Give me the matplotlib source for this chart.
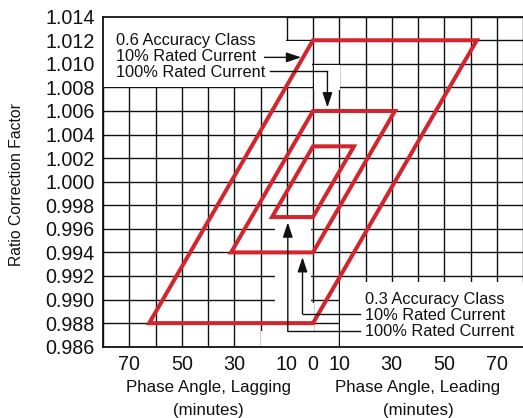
import matplotlib
matplotlib.use("Agg")
import matplotlib.pyplot as plt
import matplotlib.transforms as mtransforms
from matplotlib.patches import Polygon, Rectangle

plt.rcParams['font.family'] = ['Liberation Sans', 'DejaVu Sans']

# ---- data ----
x_ticks = list(range(-80, 81, 10))
x_tick_labels = {-70: "70", -50: "50", -30: "30", -10: "10", 0: "0",
                 10: "10", 30: "30", 50: "50", 70: "70"}
y_ticks = [0.986, 0.988, 0.990, 0.992, 0.994, 0.996, 0.998, 1.000,
           1.002, 1.004, 1.006, 1.008, 1.010, 1.012, 1.014]

# parallelograms: (RCF top, RCF bottom, phase-angle width in minutes)
rcf_top = [1.012, 1.006, 1.003]
rcf_bottom = [0.988, 0.994, 0.997]
phase_width = [62.4, 31.2, 15.6]

red = '#d3252e'
ink = '#111111'

fig = plt.figure(figsize=(5.23, 4.18), dpi=100)
W, H = 523, 418
L, R, T, B = 103, 523, 16.7, 346.7
ax = fig.add_axes([L / W, (H - B) / H, (R - L) / W, (B - T) / H])
ax.set_xlim(-80, 80)
ax.set_ylim(0.986, 1.014)
ax.set_axisbelow(True)

ax.set_xticks(x_ticks)
ax.set_xticklabels([x_tick_labels.get(v, "") for v in x_ticks])
ax.set_yticks(y_ticks)
ax.set_yticklabels([f"{v:.3f}" for v in y_ticks])
ax.tick_params(axis='both', length=0, labelsize=14.2, colors=ink)
ax.tick_params(axis='y', pad=6)
ax.tick_params(axis='x', pad=6)
ax.grid(True, color=ink, linewidth=1.0)
for s in ['left', 'bottom', 'top']:
    ax.spines[s].set_linewidth(1.3)
    ax.spines[s].set_color(ink)
ax.spines['right'].set_visible(False)

# white masks behind annotations
dx, dy = 0.3, 0.00007
masks = [
    (-80, -10 - dx, 1.008 + dy, 1.014),
    (-10 - dx, 0 - dx, 1.008 + dy, 1.012 - dy),
    (0 + dx, 10 + dx, 1.0078, 1.0099),
    (-14.3, -0.6, 0.986, 0.9969),
    (-20 + dx, 10 - dx, 0.986, 0.98735),
    (-0.6, 0.4, 0.986, 0.9897),
    (10 + dx, 80, 0.986, 0.9915),
]
for x0, x1, y0, y1 in masks:
    ax.add_patch(Rectangle((x0, y0), x1 - x0, y1 - y0, facecolor='white',
                           edgecolor='none', zorder=1))

# red parallelograms
for top, bot, w in zip(rcf_top, rcf_bottom, phase_width):
    verts = [(0, top), (w, top), (0, bot), (-w, bot)]
    ax.add_patch(Polygon(verts, closed=True, fill=False, edgecolor=red,
                         linewidth=2.9, joinstyle='miter', zorder=3))

# leader lines + arrows
def leader(points):
    xs = [p[0] for p in points]
    ys = [p[1] for p in points]
    ax.plot(xs[:-1], ys[:-1], color=ink, lw=1.0, zorder=4,
            solid_joinstyle='miter')
    ax.annotate('', xy=points[-1], xytext=points[-2],
                arrowprops=dict(arrowstyle='-|>,head_length=0.9,head_width=0.3',
                                color=ink, lw=1.0, shrinkA=0, shrinkB=0),
                zorder=4)

leader([(-18.5, 1.01055), (-4.5, 1.01055)])
leader([(-16.5, 1.00936), (5.5, 1.00936), (5.5, 1.0063)])
leader([(17.8, 0.98878), (-4.0, 0.98878), (-4.0, 0.9936)])
leader([(17.8, 0.98730), (-9.6, 0.98730), (-9.6, 0.99655)])

# annotation text
fs = 11.8
for y, s in zip([1.01202, 1.01062, 1.00930],
                ["0.6 Accuracy Class", "10% Rated Current", "100% Rated Current"]):
    ax.text(-74.9, y, s, fontsize=fs, ha='left', va='center', color=ink, zorder=5)
for y, s in zip([0.99002, 0.98868, 0.98726],
                ["0.3 Accuracy Class", "10% Rated Current", "100% Rated Current"]):
    ax.text(19.7, y, s, fontsize=fs, ha='left', va='center', color=ink, zorder=5)

# axis labels
trans = mtransforms.blended_transform_factory(ax.transData, ax.transAxes)
afs = 12.2
ax.text(-40, -0.125, "Phase Angle, Lagging", transform=trans, ha='center',
        va='center', fontsize=afs, color=ink)
ax.text(-40, -0.192, "(minutes)", transform=trans, ha='center',
        va='center', fontsize=afs, color=ink)
ax.text(40, -0.125, "Phase Angle, Leading", transform=trans, ha='center',
        va='center', fontsize=afs, color=ink)
ax.text(40, -0.192, "(minutes)", transform=trans, ha='center',
        va='center', fontsize=afs, color=ink)
fig.text(17 / W, 1 - 184 / H, "Ratio Correction Factor", rotation=90,
         ha='center', va='center', fontsize=11.3, color=ink)

fig.savefig("out.png", dpi=100)
